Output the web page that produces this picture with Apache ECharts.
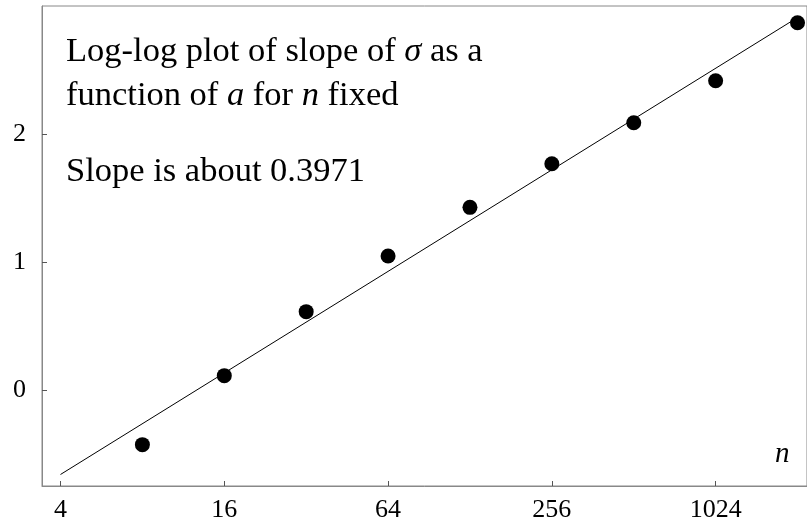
<!DOCTYPE html>
<html>
<head>
<meta charset="utf-8">
<script src="https://cdn.jsdelivr.net/npm/echarts@6/dist/echarts.min.js"></script>
<style>
html,body{margin:0;padding:0;background:#fff;}
#c{width:807px;height:523px;}
</style>
</head>
<body>
<div id="c"></div>
<script>
// data
const nValues = [8, 16, 32, 64, 128, 256, 512, 1024, 2048];
const yValues = [-0.427, 0.112, 0.612, 1.047, 1.427, 1.768, 2.088, 2.416, 2.869];
const fitN = [4, 2048];
const fitY = [-0.66, 2.91];
const xTicks = [4, 16, 64, 256, 1024];
const yTicks = [0, 1, 2];

const FONT = '"Liberation Serif", "Times New Roman", serif';
const chart = echarts.init(document.getElementById('c'), null, {renderer: 'canvas'});

const pts = nValues.map((n, i) => [n, yValues[i]]);
const fit = fitN.map((n, i) => [n, fitY[i]]);

chart.setOption({
  animation: false,
  backgroundColor: '#fff',
  grid: {
    left: 42, right: -1, top: 6, bottom: 37,
    show: true, borderColor: '#888', borderWidth: 1, backgroundColor: 'transparent'
  },
  xAxis: {
    type: 'log', logBase: 2, min: 3.42, max: 2219,
    axisLine: {show: true, onZero: false, lineStyle: {color: '#888', width: 1}},
    axisTick: {show: true, inside: true, length: 5, customValues: xTicks, lineStyle: {color: '#555'}},
    axisLabel: {show: true, customValues: xTicks, margin: 11, color: '#000', fontFamily: FONT, fontSize: 26,
      formatter: v => String(Math.round(v))},
    splitLine: {show: false}, minorTick: {show: false}
  },
  yAxis: {
    type: 'value', min: -0.75, max: 3,
    axisLine: {show: true, onZero: false, lineStyle: {color: '#888', width: 1}},
    axisTick: {show: true, inside: true, length: 5, customValues: yTicks, lineStyle: {color: '#555'}},
    axisLabel: {show: true, customValues: yTicks, margin: 16, color: '#000', fontFamily: FONT, fontSize: 26},
    splitLine: {show: false}
  },
  series: [
    {
      type: 'line', data: fit, showSymbol: false, symbol: 'none',
      lineStyle: {color: '#000', width: 1}, z: 2, silent: true
    },
    {
      type: 'scatter', data: pts, symbol: 'circle', symbolSize: 15,
      itemStyle: {color: '#000', opacity: 1}, z: 3, silent: true
    }
  ],
  graphic: [
    {
      type: 'text', left: 66, top: 34,
      style: {
        text: '{r|Log-log plot of slope of }{i|σ}{r| as a}',
        rich: {
          r: {fontFamily: FONT, fontSize: 34.5, fill: '#000', lineHeight: 34},
          i: {fontFamily: FONT, fontSize: 34.5, fontStyle: 'italic', fill: '#000', lineHeight: 34}
        }
      }
    },
    {
      type: 'text', left: 66, top: 78,
      style: {
        text: '{r|function of }{i|a}{r| for }{i|n}{r| fixed}',
        rich: {
          r: {fontFamily: FONT, fontSize: 34.5, fill: '#000', lineHeight: 34},
          i: {fontFamily: FONT, fontSize: 34.5, fontStyle: 'italic', fill: '#000', lineHeight: 34}
        }
      }
    },
    {
      type: 'text', left: 66, top: 154,
      style: {
        text: 'Slope is about 0.3971',
        font: '34.5px ' + FONT, fill: '#000'
      }
    },
    {
      type: 'text', left: 775, top: 440,
      style: {
        text: 'n',
        font: 'italic 29px ' + FONT, fill: '#000'
      }
    }
  ]
});
</script>
</body>
</html>
